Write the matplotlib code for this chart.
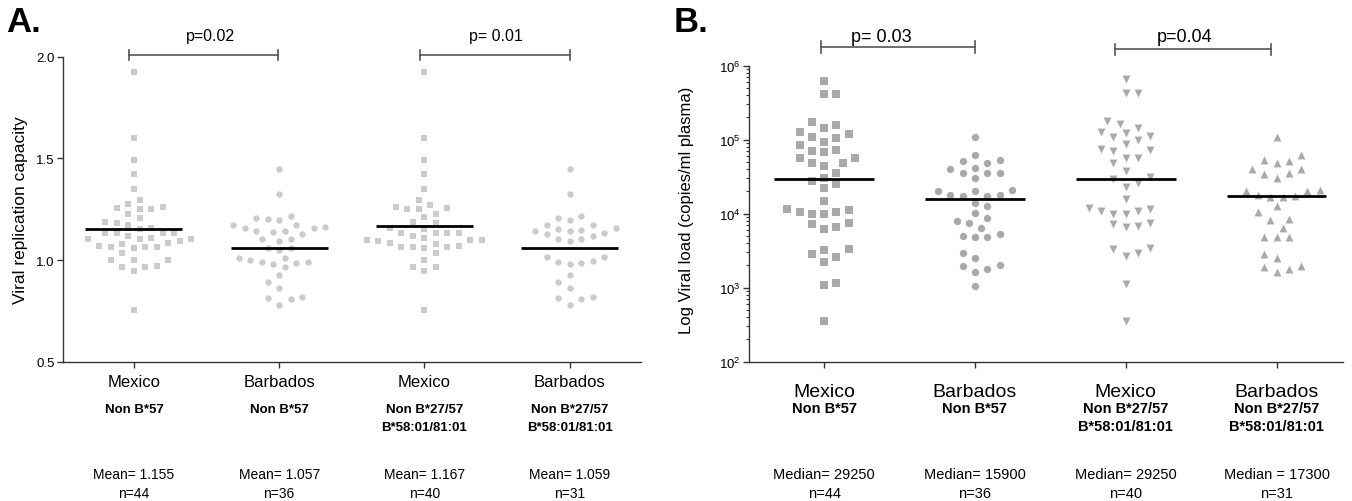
import numpy as np
import matplotlib.pyplot as plt
from matplotlib import transforms

plt.rcParams['font.family'] = ['Liberation Sans', 'DejaVu Sans']
plt.rcParams['mathtext.fontset'] = 'custom'
plt.rcParams['mathtext.rm'] = 'Liberation Sans'
plt.rcParams['mathtext.it'] = 'Liberation Sans:italic'
plt.rcParams['mathtext.bf'] = 'Liberation Sans:bold'

W, H = 1352, 502

# ---- data -------------------------------------------------------------
groups = ["Mexico", "Barbados", "Mexico", "Barbados"]
genotype_l1 = ["Non B*57", "Non B*57", "Non B*27/57", "Non B*27/57"]
genotype_l2 = ["", "", "B*58:01/81:01", "B*58:01/81:01"]
n_labels = ["n=44", "n=36", "n=40", "n=31"]

# viral replication capacity
vrc_mex_non57 = [1.926, 1.600, 1.490, 1.425, 1.351, 1.297, 1.274, 1.256, 1.252, 1.252,
                 1.262, 1.226, 1.208, 1.185, 1.174, 1.180, 1.153, 1.156, 1.135, 1.132,
                 1.132, 1.135, 1.120, 1.102, 1.102, 1.094, 1.102, 1.108, 1.080, 1.085,
                 1.065, 1.063, 1.060, 1.065, 1.068, 1.033, 1.000, 1.000, 1.002, 0.972,
                 0.964, 0.964, 0.946, 0.754]
vrc_bar_non57 = [1.448, 1.325, 1.218, 1.206, 1.198, 1.200, 1.172, 1.172, 1.164, 1.156,
                 1.156, 1.145, 1.145, 1.136, 1.128, 1.103, 1.095, 1.103, 1.060, 1.057,
                 1.049, 1.011, 1.011, 0.990, 0.985, 0.980, 1.000, 0.990, 0.964, 0.926,
                 0.893, 0.861, 0.813, 0.810, 0.820, 0.779]
vrc_mex_b27 = [1.926, 1.599, 1.490, 1.425, 1.351, 1.297, 1.272, 1.256, 1.252, 1.252,
               1.259, 1.226, 1.210, 1.187, 1.180, 1.152, 1.159, 1.135, 1.133, 1.133,
               1.135, 1.120, 1.100, 1.098, 1.092, 1.098, 1.108, 1.080, 1.083, 1.065,
               1.063, 1.060, 1.065, 1.068, 1.033, 1.000, 0.966, 0.966, 0.948, 0.754]
vrc_bar_b27 = [1.448, 1.325, 1.218, 1.198, 1.205, 1.172, 1.172, 1.154, 1.149, 1.157,
               1.144, 1.144, 1.133, 1.126, 1.120, 1.103, 1.103, 1.093, 1.013, 1.013,
               0.997, 0.985, 0.980, 0.988, 0.926, 0.893, 0.861, 0.813, 0.810, 0.820,
               0.779]
vrc_means = [1.155, 1.057, 1.167, 1.059]
mean_labels = ["Mean= 1.155", "Mean= 1.057", "Mean= 1.167", "Mean= 1.059"]
vrc_pvals = ["p=0.02", "p= 0.01"]

# viral load
vl_mex_non57 = [620000, 415000, 415000, 172000, 158000, 143000, 126000, 119000, 108000,
                104000, 94000, 85000, 71000, 69000, 72000, 56000, 56000, 48000, 48000,
                44000, 36000, 30000, 28000, 25000, 22000, 15000, 11500, 11200, 10500,
                10000, 10000, 10500, 7200, 7500, 6300, 6600, 3300, 3200, 2850, 2570,
                2200, 1150, 1100, 350]
vl_bar_non57 = [110000, 63000, 53000, 48000, 51000, 41000, 40000, 36000, 35000, 36000,
                30000, 21000, 20000, 20000, 18000, 17500, 17500, 17800, 14000, 12800,
                10200, 8700, 7600, 8000, 6500, 5300, 4900, 4900, 5000, 2900, 2500, 2000,
                1800, 1650, 1950, 1050]
vl_mex_b27 = [660000, 425000, 425000, 163000, 178000, 128000, 145000, 112000, 123000,
              98000, 108000, 87000, 74000, 71000, 72000, 57000, 57000, 49000, 38000,
              29500, 31000, 26000, 23000, 15800, 11500, 11000, 10000, 10000, 11000,
              11800, 7600, 6900, 6700, 7300, 3300, 2650, 2900, 3400, 1120, 350]
vl_bar_b27 = [108000, 63000, 53000, 48000, 52000, 40000, 40000, 35500, 34600, 30000,
              18000, 20000, 20000, 21000, 16700, 16700, 17400, 12600, 10500, 8500, 8100,
              6500, 4900, 4900, 4900, 2850, 2500, 1920, 1650, 1800, 1950]
vl_medians = [29250, 15900, 29250, 17300]
median_labels = ["Median= 29250", "Median= 15900", "Median= 29250", "Median = 17300"]
vl_pvals = ["p= 0.03", "p=0.04"]


def fy(p):
    return 1 - p / H


def swarm(ax, x0, values, vgap_px, step_px):
    # beeswarm on half-step slots with an elliptical keep-out zone
    vals = np.asarray(values, dtype=float)
    ypix = ax.transData.transform(np.column_stack([np.full(len(vals), float(x0)), vals]))[:, 1]
    unit = ax.transData.transform((1, 1))[0] - ax.transData.transform((0, 1))[0]
    half = step_px / 2
    placed = []
    offs = np.zeros(len(vals))
    for i in np.argsort(ypix, kind="stable"):
        y = ypix[i]
        near = [(y - q, p) for q, p in placed if abs(q - y) < vgap_px]
        bias = sum(p for q, p in placed if abs(q - y) < 2 * vgap_px)
        best = None
        for m in range(60):
            cands = [0] if m == 0 else ([m, -m] if bias <= 0 else [-m, m])
            for c in cands:
                xo = c * half
                if all(((xo - p) / step_px) ** 2 + (dy / vgap_px) ** 2 >= 0.97
                       for dy, p in near):
                    best = xo
                    break
            if best is not None:
                break
        placed.append((y, best))
        offs[i] = best
    return x0 + offs / unit


fig = plt.figure(figsize=(W / 100, H / 100), dpi=100)
axA = fig.add_axes([62.8 / W, fy(362.7), (640.7 - 62.8) / W, (362.7 - 57.7) / H])
axB = fig.add_axes([748.7 / W, fy(362.7), (1343 - 748.7) / W, (362.7 - 66.7) / H])

for ax in (axA, axB):
    for s in ("top", "right"):
        ax.spines[s].set_visible(False)
    for s in ("left", "bottom"):
        ax.spines[s].set_color("#333333")
        ax.spines[s].set_linewidth(1.0)
    ax.tick_params(axis="both", which="both", direction="out", color="#333333")
    ax.tick_params(axis="both", which="major", length=4, width=1)
    ax.tick_params(axis="y", labelsize=9.5, pad=2)
    ax.set_xticks(range(4))

# ---- panel A ---------------------------------------------------------
axA.set_xlim(-0.49, 3.49)
axA.set_ylim(0.5, 2.0)
axA.set_yticks([0.5, 1.0, 1.5, 2.0])
axA.set_yticklabels(["0.5", "1.0", "1.5", "2.0"])
axA.set_xticklabels(groups, fontsize=12)
axA.tick_params(axis="x", pad=4.5)
axA.set_ylabel("Viral replication capacity", fontsize=12.5)
axA.yaxis.set_label_coords(-0.060, 0.5)

vrc_sets = [vrc_mex_non57, vrc_bar_non57, vrc_mex_b27, vrc_bar_b27]
markersA = ["s", "o", "s", "o"]
sizesA = [16, 21, 16, 21]
for i, vals in enumerate(vrc_sets):
    xs = swarm(axA, i, vals, vgap_px=9, step_px=11.5)
    axA.scatter(xs, vals, marker=markersA[i], s=sizesA[i], color="#cbcbcb",
                linewidths=0, zorder=2)
    axA.plot([i - 0.334, i + 0.334], [vrc_means[i], vrc_means[i]], color="black",
             lw=2, zorder=3, solid_capstyle="butt")

# ---- panel B ---------------------------------------------------------
axB.set_yscale("log")
axB.set_xlim(-0.5, 3.44)
axB.set_ylim(1e2, 1e6)
axB.set_yticks([1e2, 1e3, 1e4, 1e5, 1e6])
axB.tick_params(axis="y", which="minor", length=2.5, width=0.8)
axB.set_xticklabels(groups, fontsize=14)
axB.tick_params(axis="x", pad=11)
axB.set_ylabel("Log Viral load (copies/ml plasma)", fontsize=12)
axB.yaxis.set_label_coords(-0.092, 0.516)

vl_sets = [vl_mex_non57, vl_bar_non57, vl_mex_b27, vl_bar_b27]
markersB = ["s", "o", "v", "^"]
sizesB = [27, 28, 32, 32]
for i, vals in enumerate(vl_sets):
    xs = swarm(axB, i, vals, vgap_px=10, step_px=12.3)
    axB.scatter(xs, vals, marker=markersB[i], s=sizesB[i], color="#a9a9a9",
                linewidths=0, zorder=2)
    axB.plot([i - 0.33, i + 0.33], [vl_medians[i], vl_medians[i]], color="black",
             lw=2, zorder=3, solid_capstyle="butt")


# ---- brackets and texts ----------------------------------------------
def bracket(ax, x1, x2, ypx, cap, label, tx, tsize):
    tr = transforms.blended_transform_factory(ax.transData, fig.transFigure)
    kw = dict(color="#555555", lw=1.2, transform=tr, clip_on=False)
    ax.plot([x1, x2], [fy(ypx), fy(ypx)], **kw)
    ax.plot([x1, x1], [fy(ypx - cap), fy(ypx + cap)], **kw)
    ax.plot([x2, x2], [fy(ypx - cap), fy(ypx + cap)], **kw)
    ax.text(tx, fy(41.5), label, transform=tr, ha="center", va="baseline",
            fontsize=tsize)


bracket(axA, -0.037, 0.99, 56, 5, vrc_pvals[0], 0.53, 11.5)
bracket(axA, 1.97, 3.0, 56, 5, vrc_pvals[1], 2.49, 11.5)
bracket(axB, -0.02, 1.0, 47.7, 5.8, vl_pvals[0], 0.38, 13)
bracket(axB, 1.93, 2.96, 50, 5.5, vl_pvals[1], 2.39, 13)


def under_texts(ax, stats, gsize, ssize):
    tr = transforms.blended_transform_factory(ax.transData, fig.transFigure)
    for i in range(4):
        ax.text(i, fy(413), genotype_l1[i], transform=tr, ha="center",
                va="baseline", fontsize=gsize, fontweight="bold")
        if genotype_l2[i]:
            ax.text(i, fy(431), genotype_l2[i], transform=tr, ha="center",
                    va="baseline", fontsize=gsize, fontweight="bold")
        ax.text(i, fy(479), stats[i], transform=tr, ha="center", va="baseline",
                fontsize=ssize)
        ax.text(i, fy(498), n_labels[i], transform=tr, ha="center", va="baseline",
                fontsize=ssize)


under_texts(axA, mean_labels, 9.5, 10)
under_texts(axB, median_labels, 10.5, 10.5)

fig.text(6 / W, fy(32), "A.", fontsize=25, fontweight="bold", va="baseline")
fig.text(674 / W, fy(32), "B.", fontsize=25, fontweight="bold", va="baseline")

fig.savefig("out.png", dpi=100)
